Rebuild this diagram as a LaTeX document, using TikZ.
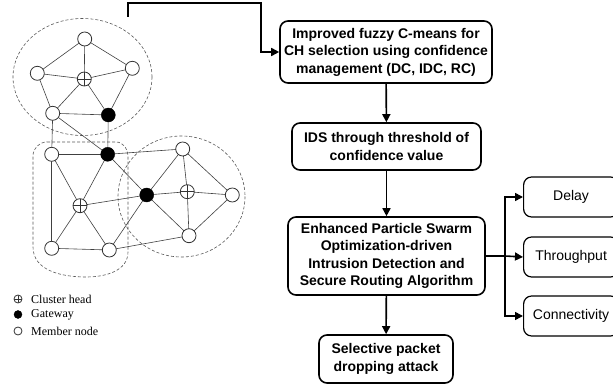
\documentclass[tikz,border=0pt]{standalone}
\usepackage{fontspec}
\setmainfont{Liberation Serif}
\setsansfont{Liberation Sans}
\usetikzlibrary{arrows.meta,calc}
\pgfdeclarelayer{background}
\pgfsetlayers{background,main}
\begin{document}
\begin{tikzpicture}[x=1pt,y=-1pt,
  member/.style={circle,draw=black!80,line width=0.8pt,fill=white,minimum size=14pt,inner sep=0pt},
  gateway/.style={circle,draw=black,fill=black,minimum size=14pt,inner sep=0pt},
  chead/.style={circle,draw=black!80,line width=0.8pt,fill=white,minimum size=14pt,inner sep=0pt,
    path picture={\draw[black!80,line width=0.7pt] (path picture bounding box.north) -- (path picture bounding box.south)
      (path picture bounding box.west) -- (path picture bounding box.east);}},
  link/.style={draw=black!75,line width=0.6pt},
  zone/.style={draw=black!65,line width=0.6pt,dash pattern=on 3pt off 2pt},
  stepbox/.style={draw,line width=1.6pt,rounded corners=8pt,align=center,
    font=\sffamily\bfseries\fontsize{14}{17.5}\selectfont,inner sep=0pt},
  metric/.style={draw,line width=1.2pt,rounded corners=8pt,font=\sffamily\fontsize{14}{17}\selectfont,
    minimum width=95pt,minimum height=40pt,inner sep=0pt},
  arr/.style={line width=1.6pt,-{Triangle[length=8pt,width=8pt]}},
  legend/.style={anchor=west,font=\fontsize{12}{12}\selectfont,inner sep=0pt}
]
\useasboundingbox (0,0) rectangle (613,387);
\clip (0,0) rectangle (613,387);

% sensor nodes
\node[member] (t)  at (84.7,39) {};
\node[member] (l1) at (37.3,73.3) {};
\node[member] (r1) at (132.3,68.3) {};
\node[chead]  (c1) at (84.3,79) {};
\node[member] (m1) at (52.7,113.3) {};
\node[gateway] (g1) at (108.3,115) {};
\node[gateway] (g2) at (107.7,154.3) {};
\node[member] (m2) at (51.7,154.3) {};
\node[chead]  (c2) at (80,205.7) {};
\node[member] (bl) at (51.7,248.3) {};
\node[member] (bm) at (109.3,250) {};
\node[gateway] (g3) at (146.7,195) {};
\node[chead]  (c3) at (187.3,191.7) {};
\node[member] (tr) at (182.7,149) {};
\node[member] (rr) at (232.3,195) {};
\node[member] (br) at (189,235.7) {};

\begin{pgfonlayer}{background}
% cluster boundaries
\draw[zone] (82.5,77) ellipse [x radius=69.5, y radius=58.5];
\draw[zone] (181.5,196.5) ellipse [x radius=63.5, y radius=60.5];
\draw[zone] (47,142) -- (116,142) to[out=0,in=90] (128,156) -- (128,252)
  to[out=-90,in=0] (86,277) to[out=180,in=-90] (33,247) -- (33,156) to[out=90,in=180] (47,142);
% links between nodes
\foreach \a/\b in {t/l1,t/r1,t/c1,l1/c1,r1/c1,l1/m1,c1/m1,c1/g1,r1/g1,m1/g1,
  m1/m2,m1/g2,g1/g2,m2/g2,m2/c2,m2/bl,g2/c2,g2/g3,g2/tr,
  c2/g3,c2/bl,c2/bm,bl/bm,bm/g3,bm/br,
  g3/tr,g3/c3,g3/br,tr/c3,tr/rr,c3/rr,c3/br,rr/br}
  \draw[link] (\a.center) -- (\b.center);
\end{pgfonlayer}

% legend
\node[chead,minimum size=8pt] (lc) at (18,299) {};
\node[gateway,minimum size=8pt] (lg) at (18,314.5) {};
\node[member,minimum size=8pt] (lm) at (18,331) {};
\node[legend] (tc) at (31,299) {Cluster head};
\node[legend] (tg) at (31,314.5) {Gateway};
\node[legend] (tm) at (31,331) {Member node};

% flow chart
\node[stepbox,minimum width=212pt,minimum height=62pt] (b1) at (386,52)
  {Improved fuzzy C-means for\\CH selection using confidence\\management (DC, IDC, RC)};
\node[stepbox,minimum width=189pt,minimum height=47pt] (b2) at (386.5,146.5)
  {IDS through threshold of\\confidence value};
\node[stepbox,minimum width=197pt,minimum height=78pt] (b3) at (386.5,256)
  {Enhanced Particle Swarm\\Optimization-driven\\Intrusion Detection and\\Secure Routing Algorithm};
\node[stepbox,minimum width=134pt,minimum height=48pt] (b4) at (386,359)
  {Selective packet\\dropping attack};

\node[metric,anchor=west] (delay) at (523,197) {Delay};
\node[metric,anchor=west] (thr)   at (523,257) {Throughput};
\node[metric,anchor=west] (con)   at (523,316) {Connectivity};

% connectors
\coordinate (src) at (128,17);
\draw[arr] (src) -- ++(0,-14) -| ($(b1.west)+(-18,0)$) -- (b1.west);
\draw[arr] (b1) -- (b2);
\draw[arr] (b2) -- (b3);
\draw[arr] (b3) -- (b4);
\coordinate (fork) at (505,256);
\draw[line width=1.6pt] (b3.east) -- (fork);
\draw[arr] (fork) -- (thr.west);
\draw[arr] (fork) |- (delay.west);
\draw[arr] (fork) |- (con.west);
\end{tikzpicture}
\end{document}
